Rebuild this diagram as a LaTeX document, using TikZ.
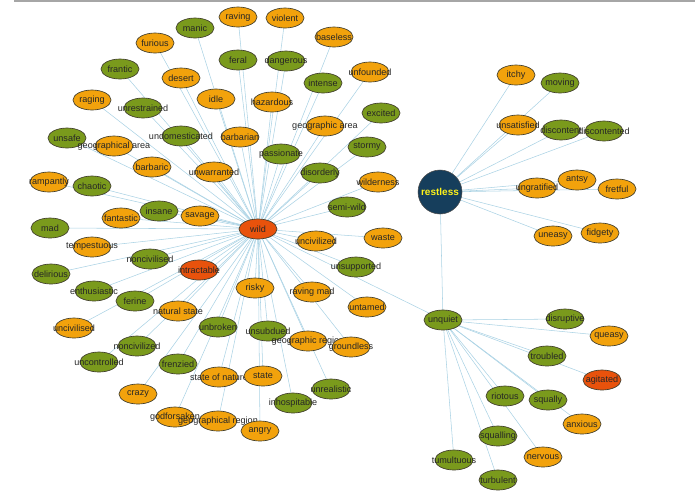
\documentclass[tikz,border=0pt]{standalone}
\usepackage{fontspec}
\setmainfont{Liberation Sans}
\usetikzlibrary{shapes.geometric,backgrounds}
\begin{document}
\begin{tikzpicture}[x=0.75pt,y=-0.75pt,
  nd/.style={ellipse,draw=black!70!olive,line width=0.5pt,minimum width=28.5pt,minimum height=15pt,inner sep=0pt},
  g/.style={nd,fill=grn}, o/.style={nd,fill=org}, r/.style={nd,fill=rd},
  tx/.style={inner sep=0pt,font=\fontsize{6.8}{7}\selectfont,text=black!85},
  ed/.style={draw=edg,line width=0.4pt}]
\definecolor{grn}{RGB}{122,154,28}
\definecolor{org}{RGB}{242,162,12}
\definecolor{rd}{RGB}{232,82,12}
\definecolor{edg}{RGB}{170,210,228}
\definecolor{nvy}{RGB}{22,62,92}
\useasboundingbox (0,0) rectangle (695,494);
\draw[gray!70,line width=1pt] (14,1) -- (695,1);
\node[r,label={[tx]center:wild}] (wild) at (258,229) {};
\node[g,label={[tx]center:unquiet}] (unquiet) at (443,320) {};
\node[circle,draw=black!70,fill=nvy,minimum size=33pt,inner sep=0pt,text=yellow!90!white,font=\fontsize{7.5}{8}\selectfont\bfseries] (restless) at (440,192) {restless};
\foreach \n/\s/\x/\y/\t in {
a1/o/238/17/raving, a2/o/285/18/violent, a3/g/195/28/manic, a4/o/155/43/furious, a5/o/334/37/baseless,
a6/g/238/60/feral, a7/g/286/61/dangerous, a8/g/120/69/frantic, a9/o/181/78/desert, a10/o/370/72/unfounded,
a11/g/323/83/intense, a12/o/216/99/idle, a13/o/272/102/hazardous, a14/o/92/100/raging, a15/g/143/108/unrestrained,
a16/g/381/113/excited, a17/o/325/126/geographic area, a18/g/181/136/undomesticated, a19/o/240/137/barbarian,
a20/g/67/138/unsafe, a21/o/114/146/geographical area, a22/g/281/154/passionate, a23/g/367/147/stormy,
a24/o/152/167/barbaric, a25/o/214/172/unwarranted, a26/g/320/173/disorderly, a27/o/49/182/rampantly,
a28/g/92/186/chaotic, a29/o/378/182/wilderness, a30/g/159/211/insane, a31/o/200/216/savage, a32/g/347/207/semi-wild,
a33/o/121/218/fantastic, a34/g/50/228/mad, a35/o/383/238/waste, a36/o/316/241/uncivilized, a37/o/92/247/tempestuous,
a38/g/150/259/noncivilised, a39/g/356/267/unsupported, a40/g/51/274/delirious, a41/r/199/270/intractable,
a42/g/94/291/enthusiastic, a43/o/255/288/risky, a44/o/312/292/raving mad, a45/g/135/301/ferine, a46/o/367/307/untamed,
a47/o/178/311/natural state, a48/o/74/328/uncivilised, a49/g/218/327/unbroken, a50/g/268/331/unsubdued,
a51/o/308/341/geographic region, a52/o/351/347/groundless, a53/g/137/346/noncivilized, a54/g/99/362/uncontrolled,
a55/g/178/364/frenzied, a56/o/219/377/state of nature, a57/o/263/376/state, a58/g/331/389/unrealistic,
a59/o/138/394/crazy, a60/g/293/403/inhospitable, a61/o/175/417/godforsaken, a62/o/218/421/geographical region,
a63/o/260/431/angry}
{ \node[\s,label={[tx]center:\t}] (\n) at (\x,\y) {};
  \begin{scope}[on background layer]\draw[ed] (wild.center) -- (\n.center);\end{scope} }
\foreach \n/\s/\x/\y/\t in {
b1/o/516/75/itchy, b2/g/560/83/moving, b3/o/518/125/unsatisfied, b4/g/561/130/discontent, b5/g/604/131/discontented,
b6/o/577/180/antsy, b7/o/617/189/fretful, b8/o/537/188/ungratified, b9/o/553/236/uneasy, b10/o/600/233/fidgety}
{ \node[\s,label={[tx]center:\t}] (\n) at (\x,\y) {};
  \begin{scope}[on background layer]\draw[ed] (restless.center) -- (\n.center);\end{scope} }
\foreach \n/\s/\x/\y/\t in {
c1/g/565/319/disruptive, c2/o/609/336/queasy, c3/g/547/356/troubled, c4/r/602/380/agitated, c5/g/505/396/riotous,
c6/g/548/400/squally, c7/o/582/424/anxious, c8/g/498/436/squalling, c9/o/543/457/nervous, c10/g/454/460/tumultuous,
c11/g/498/480/turbulent}
{ \node[\s,label={[tx]center:\t}] (\n) at (\x,\y) {};
  \begin{scope}[on background layer]\draw[ed] (unquiet.center) -- (\n.center);\end{scope} }
\begin{scope}[on background layer]
\draw[ed] (wild.center) -- (unquiet.center);
\draw[ed] (restless.center) -- (unquiet.center);
\end{scope}
\end{tikzpicture}
\end{document}
